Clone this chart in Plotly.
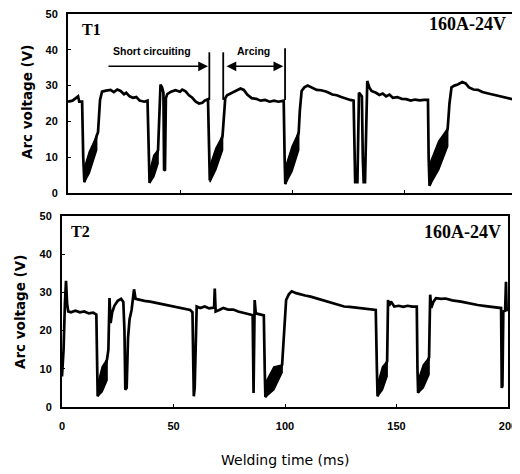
import plotly.graph_objects as go

# T1 trace (welding time ms, arc voltage V)
t1_time = [0, 2, 3.5, 4.5, 5, 6.3, 6.8, 7.3,
           12.8, 13.4, 14.3, 15.2, 17, 19, 20.5, 22, 23.5, 25, 26, 27.5, 29, 30.5, 32, 34, 35.5,
           36, 36.4,
           40.2, 40.8, 41.3, 42, 42.6, 42.9, 43.3, 43.7, 44.3, 46, 48, 50, 51, 52.5, 54, 55.5, 57, 58.5, 60, 61, 62.5,
           63, 63.3,
           69, 69.5, 70.2, 71, 73, 75, 77, 78.5, 80, 82, 84, 86, 88, 90, 92, 94, 96.3,
           96.7, 97,
           103, 103.5, 104.3, 105.5, 107, 109, 111, 113, 115.5, 118, 120, 122, 124.5, 126, 127.5,
           127.8, 128.2, 129.2, 129.6, 129.9, 130.6, 131.2, 131.6, 132, 132.6, 133, 133.6, 134.5, 135.5, 137.5,
           139, 140.5, 142, 143.5, 145, 147, 149, 151, 153, 155, 157, 159, 160.7,
           161, 161.4,
           169.5, 170.3, 171.2, 172.5, 174, 176, 177.5, 179, 181, 183, 185, 187, 189, 191, 193, 195, 197, 199, 200]
t1_volt = [25.5, 25.8, 26.5, 27, 25.5, 25.5, 10, 3,
           16, 17, 26, 28.3, 28.6, 28.8, 28.2, 28.9, 28.5, 27.6, 28, 27, 26.6, 26.8, 25.8, 25.5, 25.8,
           10, 2.8,
           12, 22, 30.3, 29.5, 28, 6.3, 6.5, 26.5, 27.6, 28.3, 28.7, 28.3, 28.9, 28.4, 27.3, 26.6, 25.5, 25, 25.2, 25.8, 26.2,
           12, 3.5,
           16, 22, 26.5, 27.3, 28, 28.7, 29.2, 28.8, 27.5, 26.5, 26.3, 25.8, 26, 25.5, 25.8, 25.5, 25.8,
           10, 2.5,
           17, 23, 28.5, 29.5, 30, 29.4, 28.8, 28.7, 28.3, 27.5, 27.3, 26.8, 26.2, 26, 25.8,
           10, 3, 3, 20, 28, 27.5, 27, 10, 3, 3, 15, 31.3, 29.5, 28.5, 28,
           27.4, 27.8, 27, 27.5, 26.6, 26.8, 26.3, 26.2, 25.8, 26.1, 25.9, 26, 26,
           10, 2,
           18, 25, 29.5, 30, 30.3, 31, 30.6, 29.5, 28.9, 28.8, 28.2, 27.8, 27.6, 27.3, 27, 26.9, 26.5, 26.1, 25.8]

# short-circuit oscillation envelopes, T1
t1_band_time = [[7.3, 9.5, 12.8], [36.4, 38.3, 40.2], [63.3, 66, 69], [97, 100, 103], [161.4, 165.5, 169.5]]
t1_band_low = [[3, 5.5, 12], [2.8, 4.5, 8.2], [3, 6.5, 12], [2.5, 6, 12], [2, 6.5, 13]]
t1_band_high = [[7, 11.5, 16], [6, 10.5, 12], [7.5, 12.5, 16], [7, 13, 17], [8, 14.5, 18]]

# T2 trace
t2_time = [0, 0.7, 1.3, 1.8, 2.3, 2.8, 4, 6, 8, 10, 12, 14, 15.4,
           15.7, 16,
           20.2, 20.8, 21.3, 21.8, 22.5, 23.5, 25, 26.5, 27.5, 28, 28.4, 29, 29.6, 30.3, 31.2, 32.3, 33, 35, 37,
           39.5, 42, 44.5, 47, 50, 53, 55.5, 57.5, 58.5,
           58.8, 59.1, 59.5, 60, 60.4, 62, 64, 66, 68.2, 68.5, 68.9, 70.5, 72.3, 74.5, 76.8, 79, 81.2, 83, 85.2,
           85.5, 85.9, 86.4, 86.9, 88.5, 90.5,
           90.9, 91.2,
           98.7, 99.5, 100.5, 101.7, 103, 105, 107, 109, 111.5, 114, 116.5, 119, 121.5, 124, 126.5, 129, 131.5,
           134, 137, 140.7,
           141.2, 141.5,
           145.8, 146.2, 146.7, 147.5, 149, 151, 153, 155, 157, 159.1,
           159.4, 159.7,
           164.6, 165.1, 165.6, 166.5, 167.7, 170, 172, 175, 178.9, 182, 186.4, 190, 193.9, 196.9,
           197.2, 197.5, 197.9, 198.7, 199.1, 199.4, 200]
t2_volt = [8, 15, 27, 33, 27, 25, 24.8, 25.2, 24.8, 25, 24.5, 24.7, 24.2,
           10, 2.8,
           12.5, 15, 28.5, 22, 24.8, 26.5, 27.8, 28.3, 27.5, 20, 4.5, 5, 18, 23, 25.4, 30.8, 28.3, 28, 27.8,
           27.6, 27.3, 27, 26.7, 26.3, 25.9, 25.6, 25.4, 24.8,
           10, 2.8, 5, 20, 26.3, 25.9, 26.3, 25.8, 26, 31, 25, 25.4, 25.9, 25.5, 25.5, 25, 24.6, 24.4, 24.1,
           24, 3.7, 28, 24.5, 24.2, 24,
           10, 2.6,
           11, 20, 28, 29.5, 30.3, 29.8, 29.4, 29.2, 28.9, 28.5, 28, 27.6, 27.2, 26.8, 26.3, 26.2, 26,
           25.9, 25.7, 25.4,
           10, 2.8,
           12, 28, 26.5, 27.6, 26.3, 26.5, 26.2, 26.5, 26.3, 26.3,
           10, 3.7,
           13, 29.4, 26, 27.5, 28.5, 28.3, 28.4, 27.9, 27.6, 27.2, 26.7, 26.4, 26.1, 25.9,
           5, 5.5, 25, 25.2, 32.8, 25.4, 25.4]

t2_band_time = [[16, 18, 20.2], [91.2, 95, 98.7], [141.5, 143.7, 145.8], [159.7, 162, 164.6]]
t2_band_low = [[2.8, 4, 7], [2.6, 4.5, 9], [2.8, 4.5, 8], [3.7, 5, 8.5]]
t2_band_high = [[6, 10.5, 12.5], [6.3, 10.5, 11], [6, 10.5, 12], [7, 11, 13]]

y_ticks = [0, 10, 20, 30, 40, 50]
x_ticks = [0, 50, 100, 150, 200]

# the page body adds an 8px margin, so the figure is drawn 8px in from the window edge
OFF = 8
W, H = 520 - OFF, 474 - OFF

def px_x(px):
    return (px - OFF) / W

def px_y(py):
    return 1 - (py - OFF) / H

fig = go.Figure()

def add_panel(time, volt, b_time, b_low, b_high, xa, ya):
    for bt, lo, hi in zip(b_time, b_low, b_high):
        fig.add_trace(go.Scatter(x=bt + bt[::-1], y=hi + lo[::-1], fill='toself',
                                 fillcolor='black', line=dict(color='black', width=1.5),
                                 mode='lines', xaxis=xa, yaxis=ya, showlegend=False))
    fig.add_trace(go.Scatter(x=time, y=volt, mode='lines',
                             line=dict(color='black', width=2.7),
                             xaxis=xa, yaxis=ya, showlegend=False))

add_panel(t1_time, t1_volt, t1_band_time, t1_band_low, t1_band_high, 'x', 'y')
add_panel(t2_time, t2_volt, t2_band_time, t2_band_low, t2_band_high, 'x2', 'y2')

tick_font = dict(family='Liberation Sans', size=11, color='black', weight='bold')
ax_common = dict(showline=True, linecolor='black', linewidth=2, mirror=True,
                 showgrid=False, zeroline=False, ticks='inside', ticklen=3,
                 tickcolor='black', tickfont=tick_font, automargin=False,
                 ticklabeloverflow='allow')

fig.update_layout(
    width=W, height=H, plot_bgcolor='white', paper_bgcolor='white',
    margin=dict(l=0, r=0, t=0, b=0),
    xaxis=dict(domain=[px_x(68), px_x(516)], range=[0, 200], anchor='y',
               tickvals=x_ticks, showticklabels=False, **ax_common),
    yaxis=dict(domain=[px_y(193), px_y(14)], range=[0, 50], anchor='x',
               tickvals=y_ticks, ticklabelstandoff=6, **ax_common),
    xaxis2=dict(domain=[px_x(62), px_x(508)], range=[0, 200], anchor='y2',
                tickvals=x_ticks, ticklabelstandoff=8, **ax_common),
    yaxis2=dict(domain=[px_y(407), px_y(216)], range=[0, 50], anchor='x2',
                tickvals=y_ticks, ticklabelstandoff=6, **ax_common),
)

ytitle_font = dict(family='DejaVu Sans', size=13.5, color='black', weight='bold')
xtitle_font = dict(family='DejaVu Sans', size=14, color='black')
serif_font = dict(family='Liberation Serif', size=18, color='black', weight='bold')
label_font = dict(family='Liberation Sans', size=10.5, color='black', weight='bold')

annots = [
    dict(text='Arc voltage (V)', pos=(27, 102), font=ytitle_font, textangle=-90),
    dict(text='Arc voltage (V)', pos=(20, 312), font=ytitle_font, textangle=-90),
    dict(text='Welding time (ms)', pos=(285, 460), font=xtitle_font),
    dict(text='T1', pos=(91, 29), font=dict(serif_font, size=16)),
    dict(text='T2', pos=(80, 232), font=dict(serif_font, size=16)),
    dict(text='160A-24V', pos=(467, 24), font=serif_font),
    dict(text='160A-24V', pos=(462, 232), font=serif_font),
]
for a in annots:
    fig.add_annotation(text=a['text'], x=px_x(a['pos'][0]), y=px_y(a['pos'][1]),
                       xref='paper', yref='paper', showarrow=False, font=a['font'],
                       textangle=a.get('textangle', 0), xanchor='center', yanchor='middle')

# Short circuiting / Arcing markers on T1
fig.add_annotation(text='Short circuiting', x=37.7, y=39.6, xref='x', yref='y',
                   showarrow=False, font=label_font)
fig.add_annotation(text='Arcing', x=82.8, y=39.6, xref='x', yref='y',
                   showarrow=False, font=label_font)
fig.add_annotation(x=62.5, y=35.4, ax=17.4, ay=35.4, xref='x', yref='y', axref='x', ayref='y',
                   text='', showarrow=True, arrowhead=2, arrowsize=1.3, arrowwidth=1.5, arrowcolor='black')
fig.add_annotation(x=96.1, y=35.4, ax=70.1, ay=35.4, xref='x', yref='y', axref='x', ayref='y',
                   text='', showarrow=True, arrowhead=2, startarrowhead=2, arrowside='end+start',
                   arrowsize=1.3, startarrowsize=1.3, arrowwidth=1.5, arrowcolor='black')
for xv, top in [(63.1, 39.3), (69.3, 39.3), (96.9, 40.4)]:
    fig.add_shape(type='line', x0=xv, x1=xv, y0=26, y1=top, xref='x', yref='y',
                  line=dict(color='black', width=1.8))

fig.write_html("out.html")
